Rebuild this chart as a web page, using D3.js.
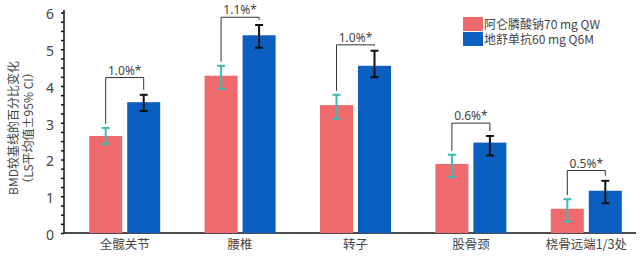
<!DOCTYPE html>
<html>
<head>
<meta charset="utf-8">
<script src="https://cdn.jsdelivr.net/npm/d3@7"></script>
<style>
    body { margin: 0; background: #fff; }
    text { font-family: "Noto Sans CJK SC", "Noto Sans", sans-serif; fill: #444; }
</style>
</head>
<body>
<svg id="chart" width="640" height="257"></svg>
<script>
// data
let categories = ["全髋关节", "腰椎", "转子", "股骨颈", "桡骨远端1/3处"];
let seriesNames = ["阿仑膦酸钠70 mg QW", "地舒单抗60 mg Q6M"];
let alendronate = [2.64, 4.28, 3.48, 1.88, 0.66];
let alendronateLo = [2.42, 3.92, 3.10, 1.52, 0.31];
let alendronateHi = [2.86, 4.55, 3.76, 2.13, 0.92];
let denosumab = [3.56, 5.38, 4.55, 2.46, 1.15];
let denosumabLo = [3.32, 5.04, 4.24, 2.11, 0.81];
let denosumabHi = [3.76, 5.66, 4.96, 2.64, 1.42];
let diffLabels = ["1.0%*", "1.1%*", "1.0%*", "0.6%*", "0.5%*"];
let bracketLevel = [4.23, 5.87, 5.12, 2.99, 1.70];
let yTicks = [0, 1, 2, 3, 4, 5, 6];

let pink = "#ee6a6c";
let blue = "#0a5fc0";
let teal = "#3dbab2";

let svg = d3.select("#chart");

let xScale = d3.scaleBand()
    .domain(categories)
    .range([67, 644]);
let yScale = d3.scaleLinear()
    .domain([0, 6])
    .range([233, 12.5]);

let barW = 33;
let gap = 5;

// y axis with small ticks every 0.25
let yAxis = d3.axisLeft(yScale)
    .tickValues(d3.range(0, 6.01, 0.25))
    .tickSize(3)
    .tickFormat(d => (yTicks.includes(d) ? d : ""));
let gy = svg.append("g")
    .attr("transform", "translate(64,0)")
    .call(yAxis);
gy.select(".domain").attr("stroke", "#111").attr("stroke-width", 1.5)
    .attr("d", "M0,10V233");
gy.selectAll(".tick line").attr("stroke", "#111").attr("stroke-width", 1.5);
gy.selectAll(".tick text")
    .attr("x", -10)
    .attr("dy", "0.45em")
    .style("font-size", "14px")
    .style("font-family", "Noto Sans, sans-serif")
    .attr("fill", "#555");

// x axis
let xAxis = d3.axisBottom(xScale).tickSize(0).tickPadding(7);
let gx = svg.append("g")
    .attr("transform", "translate(0,233)")
    .call(xAxis);
gx.select(".domain").attr("stroke", "#111").attr("stroke-width", 1.5)
    .attr("d", "M64,0H636");
gx.selectAll(".tick text").style("font-size", "12.5px").attr("fill", "#444");

// bars
let groups = svg.append("g").selectAll("g")
    .data(categories)
    .join("g")
    .attr("transform", d => `translate(${xScale(d) + xScale.bandwidth() / 2},0)`);

groups.append("rect")
    .attr("x", -gap / 2 - barW)
    .attr("width", barW)
    .attr("y", (d, i) => yScale(alendronate[i]))
    .attr("height", (d, i) => yScale(0) - yScale(alendronate[i]))
    .attr("fill", pink);

groups.append("rect")
    .attr("x", gap / 2)
    .attr("width", barW)
    .attr("y", (d, i) => yScale(denosumab[i]))
    .attr("height", (d, i) => yScale(0) - yScale(denosumab[i]))
    .attr("fill", blue);

// error bars
function errorBar(sel, cx, lo, hi, color) {
    let g = sel.append("g").attr("stroke", color).attr("stroke-width", 2);
    g.append("line").attr("x1", cx).attr("x2", cx)
        .attr("y1", (d, i) => yScale(lo[i])).attr("y2", (d, i) => yScale(hi[i]));
    g.append("line").attr("x1", cx - 4).attr("x2", cx + 4)
        .attr("y1", (d, i) => yScale(lo[i])).attr("y2", (d, i) => yScale(lo[i]));
    g.append("line").attr("x1", cx - 4).attr("x2", cx + 4)
        .attr("y1", (d, i) => yScale(hi[i])).attr("y2", (d, i) => yScale(hi[i]));
}
let pc = -gap / 2 - barW / 2;
let bc = gap / 2 + barW / 2;
errorBar(groups, pc, alendronateLo, alendronateHi, teal);
errorBar(groups, bc, denosumabLo, denosumabHi, "#111");

// brackets
groups.append("path")
    .attr("fill", "none")
    .attr("stroke", "#333")
    .attr("stroke-width", 1)
    .attr("d", (d, i) => {
        let top = yScale(bracketLevel[i]);
        return `M${pc},${yScale(alendronateHi[i]) - 4}V${top}H${bc}V${yScale(denosumabHi[i]) - 5}`;
    });

groups.append("text")
    .attr("x", 0)
    .attr("y", (d, i) => yScale(bracketLevel[i]) - 3)
    .attr("text-anchor", "middle")
    .style("font-size", "12px")
    .style("font-family", "Noto Sans, sans-serif")
    .text((d, i) => diffLabels[i]);

// y label
let yl = svg.append("text")
    .attr("transform", "translate(18,128) rotate(-90)")
    .attr("text-anchor", "middle")
    .style("font-size", "12px");
yl.append("tspan").attr("x", 0).attr("y", 0).text("BMD较基线的百分比变化");
yl.append("tspan").attr("x", 0).attr("y", 15).text("（LS平均值±95% CI）");

// legend
let legend = svg.append("g").selectAll("g")
    .data(seriesNames)
    .join("g")
    .attr("transform", (d, i) => `translate(463,${17 + i * 15})`);
legend.append("rect")
    .attr("width", 20)
    .attr("height", 14)
    .attr("fill", (d, i) => (i === 0 ? pink : blue));
legend.append("text")
    .attr("x", 21)
    .attr("y", 11.5)
    .style("font-size", "12px")
    .text(d => d);
</script>
</body>
</html>
